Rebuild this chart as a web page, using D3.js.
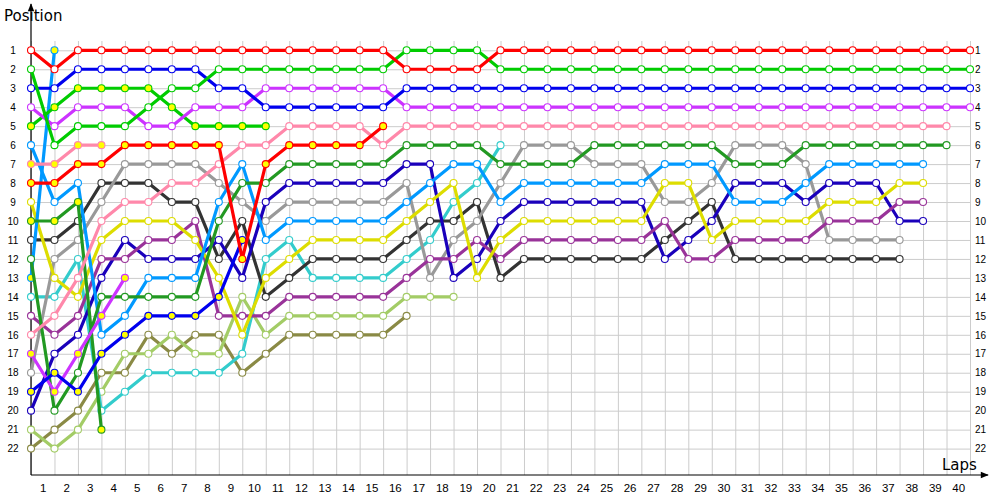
<!DOCTYPE html>
<html>
<head>
<meta charset="utf-8">
<script src="https://cdn.jsdelivr.net/npm/d3@7"></script>
<style>
  body { margin: 0; background: #fff; }
  svg { display: block; font-family: "DejaVu Sans", Verdana, sans-serif; }
</style>
</head>
<body>
<svg width="1000" height="500"></svg>
<script>
// position per lap, index 0 = start (lap 0)
const red = [1,2,1,1,1,1,1,1,1,1,1,1,1,1,1,1,2,2,2,2,1,1,1,1,1,1,1,1,1,1,1,1,1,1,1,1,1,1,1,1,1];
const green = [2,6,5,5,5,4,3,3,2,2,2,2,2,2,2,2,1,1,1,1,2,2,2,2,2,2,2,2,2,2,2,2,2,2,2,2,2,2,2,2,2];
const blue = [3,3,2,2,2,2,2,2,3,3,4,4,4,4,4,4,3,3,3,3,3,3,3,3,3,3,3,3,3,3,3,3,3,3,3,3,3,3,3,3,3];
const violet = [4,5,4,4,4,5,5,4,4,4,3,3,3,3,3,3,4,4,4,4,4,4,4,4,4,4,4,4,4,4,4,4,4,4,4,4,4,4,4,4,4];
const pink = [16,15,13,10,9,9,8,8,7,6,6,5,5,5,5,6,5,5,5,5,5,5,5,5,5,5,5,5,5,5,5,5,5,5,5,5,5,5,5,5];
const darkGreen = [12,20,18,14,14,14,14,14,10,8,8,7,7,7,7,7,6,6,6,6,7,7,7,7,6,6,6,6,6,6,7,7,7,6,6,6,6,6,6,6];
const lightBlue = [6,9,8,16,15,13,13,13,9,7,11,10,10,10,10,10,9,8,7,7,9,8,8,8,8,8,8,7,7,7,9,9,9,8,7,7,7,7,7];
const yellow = [9,13,14,11,10,10,10,11,13,16,13,12,11,11,11,11,10,9,8,13,11,10,10,10,10,10,10,8,8,11,10,10,10,10,9,9,9,8,8];
const purple = [15,16,15,12,12,11,11,10,15,15,15,14,14,14,14,14,13,12,12,11,12,11,11,11,11,11,11,10,12,12,11,11,11,11,10,10,10,9,9];
const navy = [20,17,16,13,11,12,12,12,11,13,9,8,8,8,8,8,7,7,13,12,10,9,9,9,9,9,9,12,11,10,8,8,8,9,8,8,8,10,10];
const gray = [18,12,11,9,7,7,7,7,8,9,10,9,9,9,9,9,8,13,11,10,8,6,6,6,7,7,7,9,9,8,6,6,6,7,11,11,11,11];
const darkGray = [11,11,10,8,8,8,9,9,12,10,14,13,12,12,12,12,11,10,10,9,13,12,12,12,12,12,12,11,10,9,12,12,12,12,12,12,12,12];
const cyan = [14,14,12,20,19,18,18,18,18,17,12,11,13,13,13,13,12,11,9,8,6];
const lime = [21,22,21,19,17,17,16,17,17,14,16,15,15,15,15,15,14,14,14];
const olive = [22,21,20,18,18,16,17,16,16,18,17,16,16,16,16,16,15];
const redB = [8,8,7,7,6,6,6,6,6,12,7,6,6,6,6,5];
const greenB = [5,4,3,3,3,3,4,5,5,5,5];
const blueB = [19,18,19,17,16,15,15,15,14,11];
const violetB = [17,19,17,15,13];
const pinkB = [7,7,6,6];
const darkGreenB = [10,10,9,21];
const lightBlueB = [13,1];

const lapLabels = d3.range(1, 41);
const posLabels = d3.range(1, 23);

// drawing order: first = bottom
const series = [
  { data: olive, color: "#8a8a45", fill: "#fff" },
  { data: lime, color: "#a3cc66", fill: "#fff" },
  { data: cyan, color: "#33cccc", fill: "#fff" },
  { data: darkGray, color: "#333333", fill: "#fff" },
  { data: gray, color: "#999999", fill: "#fff" },
  { data: navy, color: "#1a00bb", fill: "#fff" },
  { data: purple, color: "#993399", fill: "#fff" },
  { data: yellow, color: "#dddd00", fill: "#fff" },
  { data: lightBlueB, color: "#0099ff", fill: "#ffff00" },
  { data: lightBlue, color: "#0099ff", fill: "#fff" },
  { data: darkGreenB, color: "#229922", fill: "#ffff00" },
  { data: darkGreen, color: "#229922", fill: "#fff" },
  { data: pinkB, color: "#ff88aa", fill: "#ffff00" },
  { data: pink, color: "#ff88aa", fill: "#fff" },
  { data: violetB, color: "#cc33ff", fill: "#ffff00" },
  { data: blueB, color: "#0000ee", fill: "#ffff00" },
  { data: greenB, color: "#00cc00", fill: "#ffff00" },
  { data: redB, color: "#ff0000", fill: "#ffff00" },
  { data: violet, color: "#cc33ff", fill: "#fff" },
  { data: blue, color: "#0000ee", fill: "#fff" },
  { data: green, color: "#00cc00", fill: "#fff" },
  { data: red, color: "#ff0000", fill: "#fff" }
];

const svg = d3.select("svg");
const plotL = 31, plotR = 970, plotT = 41, plotB = 475;

const x = d3.scaleLinear().domain([0, 40]).range([plotL, plotR]);
const y = d3.scaleLinear().domain([1, 22]).range([50.3, 448.6]);

// grid
svg.append("g")
  .attr("transform", "translate(0," + plotB + ")")
  .call(d3.axisBottom(x).tickValues(d3.range(0, 41)).tickSize(-(plotB - plotT)).tickFormat(""))
  .call(g => g.select(".domain").remove())
  .call(g => g.selectAll("line").attr("stroke", "#cccccc"));

svg.append("g")
  .attr("transform", "translate(" + plotL + ",0)")
  .call(d3.axisLeft(y).tickValues(posLabels).tickSize(-(plotR - plotL)).tickFormat(""))
  .call(g => g.select(".domain").remove())
  .call(g => g.selectAll("line").attr("stroke", "#cccccc"));

// tick labels
svg.append("g")
  .attr("transform", "translate(13,0)")
  .call(d3.axisLeft(y).tickValues(posLabels).tickSize(0).tickPadding(0))
  .call(g => g.select(".domain").remove())
  .call(g => g.selectAll("text").attr("text-anchor", "middle").attr("font-size", 10).attr("fill", "#000"));

svg.append("g")
  .attr("transform", "translate(" + plotR + ",0)")
  .call(d3.axisRight(y).tickValues(posLabels).tickSize(0).tickPadding(5))
  .call(g => g.select(".domain").remove())
  .call(g => g.selectAll("text").attr("font-size", 10).attr("fill", "#000"));

svg.append("g")
  .attr("transform", "translate(0," + plotB + ")")
  .call(d3.axisBottom(x).tickValues(lapLabels.map(d => d - 0.5)).tickFormat(d => d + 0.5).tickSize(0).tickPadding(9))
  .call(g => g.select(".domain").remove())
  .call(g => g.selectAll("text").attr("font-size", 11.5).attr("fill", "#000"));

// axes with arrows
svg.append("defs").append("marker")
  .attr("id", "arrow")
  .attr("viewBox", "0 0 10 10")
  .attr("refX", 9).attr("refY", 5)
  .attr("markerWidth", 12).attr("markerHeight", 8)
  .attr("markerUnits", "userSpaceOnUse")
  .attr("orient", "auto")
  .append("path").attr("d", "M0,1L10,5L0,9Z").attr("fill", "#000");

svg.append("line")
  .attr("x1", plotL).attr("y1", plotB).attr("x2", plotL).attr("y2", 4)
  .attr("stroke", "#000").attr("stroke-width", 1.2).attr("marker-end", "url(#arrow)");
svg.append("line")
  .attr("x1", plotL).attr("y1", plotB).attr("x2", 988).attr("y2", plotB)
  .attr("stroke", "#000").attr("stroke-width", 1.2).attr("marker-end", "url(#arrow)");

svg.append("text").attr("x", 4).attr("y", 21).attr("font-size", 15).text("Position");
svg.append("text").attr("x", 942).attr("y", 470).attr("font-size", 15).text("Laps");

// driver lines
const line = d3.line().x((d, i) => x(i)).y(d => y(d));

const drv = svg.append("g").selectAll("g").data(series).join("g");

drv.append("path")
  .attr("d", d => line(d.data))
  .attr("fill", "none")
  .attr("stroke", d => d.color)
  .attr("stroke-width", 3.2)
  .attr("stroke-linejoin", "round");

drv.selectAll("circle")
  .data(d => d.data.map((p, i) => ({ p: p, i: i, s: d })))
  .join("circle")
  .attr("cx", d => x(d.i))
  .attr("cy", d => y(d.p))
  .attr("r", 3.5)
  .attr("fill", d => d.s.fill)
  .attr("stroke", d => d.s.color)
  .attr("stroke-width", 1.1);
</script>
</body>
</html>
